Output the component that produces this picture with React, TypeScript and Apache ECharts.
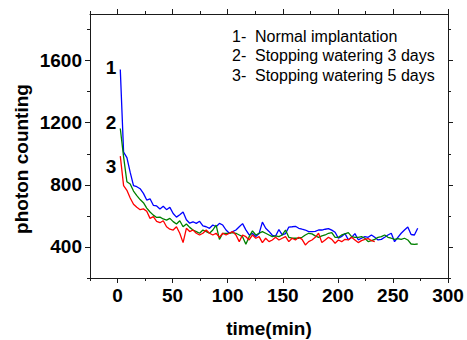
import React, { useEffect, useRef } from "react";
import * as echarts from "echarts";

const times = [
  2.5, 5.5, 8.5, 11.5, 14.5, 17.5, 20.5, 23.5, 26.5, 29.5, 32.5, 35.5, 38.5, 41.5, 44.5, 47.5, 50.5, 53.5, 56.5, 59.5,
  62.5, 65.5, 68.5, 71.5, 74.5, 77.5, 80.5, 83.5, 86.5, 89.5, 92.5, 95.5, 98.5, 101.5, 104.5, 107.5, 110.5, 113.5, 116.5, 119.5,
  122.5, 125.5, 128.5, 131.5, 134.5, 137.5, 140.5, 143.5, 146.5, 149.5, 152.5, 155.5, 158.5, 161.5, 164.5, 167.5, 170.5, 173.5, 176.5, 179.5,
  182.5, 185.5, 188.5, 191.5, 194.5, 197.5, 200.5, 203.5, 206.5, 209.5, 212.5, 215.5, 218.5, 221.5, 224.5, 227.5, 230.5, 233.5, 236.5, 239.5,
  242.5, 245.5, 248.5, 251.5, 254.5, 257.5, 260.5, 263.5, 266.5, 269.5, 272.5,
];

const normalImplantation = [
  1542, 1010, 975, 880, 795, 788, 775, 745, 702, 710, 668, 664, 645, 662, 640, 655, 615, 592, 607, 625,
  575, 553, 562, 552, 565, 535, 530, 520, 541, 530, 552, 541, 509, 488, 499, 509, 530, 550, 510, 478,
  486, 468, 486, 560, 520, 500, 475, 470, 512, 478, 486, 528, 530, 533, 520, 514, 509, 499, 499, 500,
  509, 509, 514, 518, 508, 495, 456, 468, 486, 446, 462, 486, 446, 456, 466, 462, 477, 462, 445, 449,
  462, 477, 488, 434, 462, 488, 509, 528, 480, 477, 520,
];

const stopWatering3 = [
  1163, 980, 820, 805, 760, 730, 705, 685, 650, 625, 605, 590, 592, 580, 573, 584, 563, 548, 569, 530,
  548, 526, 509, 499, 488, 509, 499, 488, 509, 541, 449, 488, 488, 488, 492, 488, 477, 466, 417, 466,
  503, 477, 488, 499, 488, 477, 466, 471, 466, 477, 509, 462, 456, 456, 456, 462, 477, 488, 484, 471,
  462, 471, 477, 488, 492, 462, 462, 477, 484, 492, 466, 462, 462, 466, 456, 434, 441, 449, 462, 466,
  477, 462, 456, 449, 454, 449, 456, 445, 419, 417, 419,
];

const stopWatering5 = [
  985, 795, 765, 715, 675, 655, 640, 645, 630, 584, 595, 565, 556, 569, 530, 514, 509, 530, 488, 428,
  520, 499, 509, 488, 477, 488, 509, 488, 477, 488, 462, 488, 477, 488, 499, 477, 434, 477, 466, 445,
  477, 456, 466, 428, 456, 434, 445, 462, 445, 456, 466, 434, 456, 445, 462, 449, 413, 434, 445, 462,
  488, 428, 445, 462, 449, 424, 445, 434, 449, 445, 462, 445, 428, 441, 449, 454, 441, 434,
];

const xMajorTicks = [0, 50, 100, 150, 200, 250, 300];
const xMinorTicks = [-25, 25, 75, 125, 175, 225, 275];
const yMajorTicks = [400, 800, 1200, 1600];
const yMinorTicks = [200, 600, 1000, 1400, 1800];

const legendNumbers = ["1-", "2-", "3-"];
const legendTexts = ["Normal implantation", "Stopping watering 3 days", "Stopping watering 5 days"];
const curveLabels = ["1", "2", "3"];

const FONT = "'Liberation Sans', Arial, Helvetica, sans-serif";
const AXIS_COLOR = "#1a1a1a";

export default function App() {
  const ref = useRef<HTMLDivElement>(null);

  useEffect(() => {
    if (!ref.current) return;
    const chart = echarts.init(ref.current, undefined, { renderer: "svg" });

    const xRange = { min: -25, max: 300 };
    const yRange = { min: 200, max: 1900 };
    const majorLabel = {
      fontFamily: FONT,
      fontWeight: "bold" as const,
      fontSize: 19,
      color: "#000",
      formatter: (v: number) => String(v),
    };

    const axis = (position: string, ticks: number[], len: number, line: boolean, labels: any, range: any) => ({
      type: "value",
      ...range,
      position,
      axisLine: { show: line, onZero: false, lineStyle: { color: AXIS_COLOR, width: 1 } },
      axisTick: { show: true, inside: false, length: len, customValues: ticks, lineStyle: { color: AXIS_COLOR, width: 1 } },
      axisLabel: labels ? { show: true, customValues: ticks, ...labels } : { show: false },
      splitLine: { show: false },
    });

    const xAxis = [
      axis("bottom", xMajorTicks, 5, true, { margin: 8, ...majorLabel }, xRange),
      axis("bottom", xMinorTicks, 3, false, null, xRange),
      axis("top", xMajorTicks, 5, true, null, xRange),
      axis("top", xMinorTicks, 3, false, null, xRange),
    ];

    const yAxis = [
      axis("left", yMajorTicks, 5, true, { margin: 8, ...majorLabel }, yRange),
      axis("left", yMinorTicks, 3, false, null, yRange),
      axis("right", yMajorTicks, 5, true, null, yRange),
      axis("right", yMinorTicks, 3, false, null, yRange),
    ];

    const mk = (name: string, values: number[], color: string) => ({
      name,
      type: "line",
      xAxisIndex: 0,
      yAxisIndex: 0,
      showSymbol: false,
      symbol: "none",
      lineStyle: { color, width: 1.3 },
      data: values.map((v, i) => [times[i], v]),
    });

    const graphic: any[] = [];
    legendNumbers.forEach((n, i) => {
      graphic.push({
        type: "text", left: 232, top: 28 + i * 19.7,
        style: { text: n, font: `16px ${FONT}`, fill: "#000" },
      });
      graphic.push({
        type: "text", left: 255, top: 28 + i * 19.7,
        style: { text: legendTexts[i], font: `16px ${FONT}`, fill: "#000" },
      });
    });
    const labelY = [67, 122, 166];
    curveLabels.forEach((c, i) => {
      graphic.push({
        type: "text", x: 111, y: labelY[i],
        style: { text: c, font: `bold 19px ${FONT}`, fill: "#000", align: "center", verticalAlign: "middle" },
      });
    });
    graphic.push({
      type: "text", x: 269, y: 328,
      style: { text: "time(min)", font: `bold 19px ${FONT}`, fill: "#000", align: "center", verticalAlign: "middle" },
    });
    graphic.push({
      type: "text", x: 21, y: 159, rotation: Math.PI / 2,
      style: { text: "photon counting", font: `bold 19px ${FONT}`, fill: "#000", align: "center", verticalAlign: "middle" },
    });

    chart.setOption({
      animation: false,
      backgroundColor: "#fff",
      grid: { left: 90, right: 19, top: 14, bottom: 62, containLabel: false },
      xAxis,
      yAxis,
      series: [
        mk("1- Normal implantation", normalImplantation, "#0000ff"),
        mk("2- Stopping watering 3 days", stopWatering3, "#008000"),
        mk("3- Stopping watering 5 days", stopWatering5, "#ff0000"),
      ],
      graphic,
    } as any);

    return () => chart.dispose();
  }, []);

  return <div ref={ref} style={{ width: 467, height: 340, position: "absolute", left: 0, top: 0 }} />;
}
